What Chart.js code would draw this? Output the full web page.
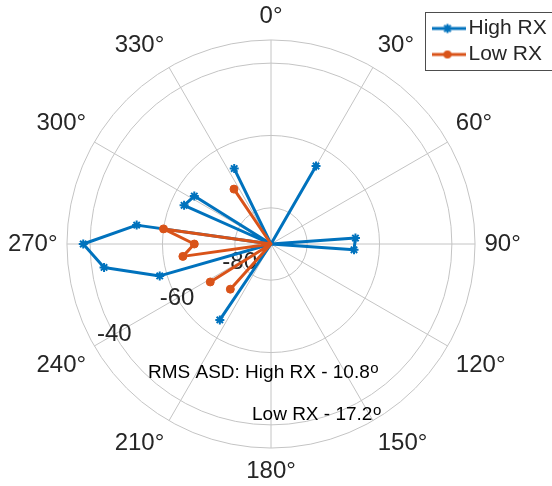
<!DOCTYPE html>
<html>
<head>
<meta charset="utf-8">
<script src="https://cdn.jsdelivr.net/npm/chart.js@4.4.1/dist/chart.umd.min.js"></script>
<style>
  html, body { margin: 0; padding: 0; background: #fff; }
  canvas { display: block; }
</style>
</head>
<body>
<canvas id="polar" width="552" height="486"></canvas>
<script>
// measured directions in degrees (0 = up, clockwise)
const sampleAngles = [
  6, 14, 22, 30, 38, 46, 54, 62, 70,
  78, 86, 94, 102, 110, 118, 126, 134, 142,
  150, 158, 166, 174, 182, 190, 198, 206, 214,
  222, 230, 238, 246, 254, 262, 270, 278, 286,
  294, 302, 310, 318, 326, 334, 342, 350, 358
];
// power in dB, -90 means at or below the inner limit
const highRx = [
  -90, -90, -90, -65.1, -90, -90, -90, -90, -90,
  -90, -66.6, -67.0, -90, -90, -90, -90, -90, -90,
  -90, -90, -90, -90, -90, -90, -90, -90, -64.7,
  -90, -90, -90, -90, -58.0, -43.4, -38.1, -52.5, -90,
  -63.7, -65.0, -90, -90, -90, -66.8, -90, -90, -90
];
const lowRx = [
  -90, -90, -90, -90, -90, -90, -90, -90, -90,
  -90, -90, -90, -90, -90, -90, -90, -90, -90,
  -90, -90, -90, -90, -90, -90, -90, -90, -90,
  -73.2, -90, -70.2, -90, -90, -65.4, -68.8, -60.0, -90,
  -90, -90, -90, -90, -71.7, -90, -90, -90, -90
];
const angleTicks = [0, 30, 60, 90, 120, 150, 180, 210, 240, 270, 300, 330];
const radialTicks = [-80, -60, -40];
const rMin = -90;
const rMax = -33.6;
const tickLabelAngle = 240;

const blue = '#0072BD';
const orange = '#D95319';
const gridColor = '#c4c4c4';
const textColor = '#262626';
const fontFamily = '"Liberation Sans", Arial, Helvetica, sans-serif';

// 2 degree category grid so the radar scale can hold every sample angle
const gridAngles = [];
for (let a = 0; a < 360; a += 2) gridAngles.push(a);

function onGrid(values) {
  return gridAngles.map(a => {
    const i = sampleAngles.indexOf(a);
    return i < 0 ? null : Math.max(values[i], rMin);
  });
}

function swatch(color, marker) {
  const c = document.createElement('canvas');
  c.width = 36; c.height = 14;
  const g = c.getContext('2d');
  g.strokeStyle = color; g.fillStyle = color;
  g.lineWidth = 3;
  g.beginPath(); g.moveTo(0, 7); g.lineTo(36, 7); g.stroke();
  if (marker === 'star') {
    g.lineWidth = 2;
    g.beginPath();
    g.moveTo(18, 2.5); g.lineTo(18, 11.5);
    g.moveTo(13.5, 7); g.lineTo(22.5, 7);
    g.moveTo(14.8, 3.8); g.lineTo(21.2, 10.2);
    g.moveTo(14.8, 10.2); g.lineTo(21.2, 3.8);
    g.stroke();
  } else {
    g.beginPath(); g.arc(18, 7, 4, 0, Math.PI * 2); g.fill();
  }
  return c;
}
const swatches = [swatch(blue, 'star'), swatch(orange, 'circle')];

const extras = {
  id: 'extras',
  afterUpdate(chart) {
    const lg = chart.legend;
    if (!lg) return;
    const h = lg.height;
    lg.left = 432; lg.right = 432 + lg.width;
    lg.top = 13; lg.bottom = 13 + h;
  },
  beforeDatasetsDraw(chart) {
    const r = chart.scales.r;
    const ctx = chart.ctx;
    const a = tickLabelAngle * Math.PI / 180;
    ctx.save();
    ctx.font = '24px ' + fontFamily;
    ctx.fillStyle = textColor;
    ctx.textAlign = 'center';
    ctx.textBaseline = 'middle';
    radialTicks.forEach(v => {
      const d = r.getDistanceFromCenterForValue(v);
      ctx.fillText(String(v), r.xCenter + d * Math.sin(a), r.yCenter - d * Math.cos(a));
    });
    ctx.restore();
  },
  afterDraw(chart) {
    const ctx = chart.ctx;
    ctx.save();
    ctx.strokeStyle = '#4d4d4d';
    ctx.lineWidth = 1;
    ctx.strokeRect(425.5, 12.5, 140, 58);

    ctx.fillStyle = '#000';
    ctx.textBaseline = 'alphabetic';
    ctx.textAlign = 'left';
    const lines = [
      { text: 'RMS ASD: High RX - 10.8', x: 148, y: 378 },
      { text: 'Low RX - 17.2', x: 252, y: 420 }
    ];
    lines.forEach(l => {
      ctx.font = '19px ' + fontFamily;
      ctx.fillText(l.text, l.x, l.y);
      const w = ctx.measureText(l.text).width;
      ctx.font = '15px ' + fontFamily;
      ctx.fillText('o', l.x + w + 0.5, l.y - 5);
    });
    ctx.restore();
  }
};

new Chart(document.getElementById('polar'), {
  type: 'radar',
  data: {
    labels: gridAngles,
    datasets: [
      {
        label: 'High RX',
        data: onGrid(highRx),
        order: 1,
        borderColor: blue,
        borderWidth: 3,
        borderJoinStyle: 'round',
        fill: false,
        spanGaps: true,
        pointStyle: 'star',
        pointRadius: c => (c.raw != null && c.raw > rMin) ? 4.5 : 0,
        pointBorderColor: blue,
        pointBackgroundColor: blue,
        pointBorderWidth: 2
      },
      {
        label: 'Low RX',
        data: onGrid(lowRx),
        order: 0,
        borderColor: orange,
        borderWidth: 3,
        borderJoinStyle: 'round',
        fill: false,
        spanGaps: true,
        pointStyle: 'circle',
        pointRadius: c => (c.raw != null && c.raw > rMin) ? 4 : 0,
        pointBorderColor: orange,
        pointBackgroundColor: orange,
        pointBorderWidth: 1
      }
    ]
  },
  options: {
    responsive: false,
    animation: false,
    layout: { padding: { left: 0, right: 22, top: 2, bottom: 0 } },
    elements: { line: { tension: 0 } },
    plugins: {
      tooltip: { enabled: false },
      legend: {
        position: 'chartArea',
        align: 'start',
        labels: {
          usePointStyle: true,
          padding: 5,
          color: textColor,
          font: { size: 21, family: fontFamily },
          sort: (a, b) => a.datasetIndex - b.datasetIndex,
          generateLabels(chart) {
            const items = Chart.defaults.plugins.legend.labels.generateLabels(chart);
            items.forEach(it => { it.pointStyle = swatches[it.datasetIndex]; });
            return items;
          }
        }
      }
    },
    scales: {
      r: {
        min: rMin,
        max: rMax,
        startAngle: 0,
        afterBuildTicks: s => {
          s.ticks = [rMin].concat(radialTicks, [rMax]).map(v => ({ value: v }));
        },
        ticks: { display: false },
        grid: { circular: true, color: gridColor, lineWidth: 1 },
        angleLines: {
          color: gridColor,
          lineWidth: c => angleTicks.includes(gridAngles[c.index]) ? 1 : 0
        },
        pointLabels: {
          callback: l => angleTicks.includes(+l) ? l + '°' : '',
          color: textColor,
          padding: 9.4,
          font: { size: 24, family: fontFamily, lineHeight: 1.19 }
        }
      }
    }
  },
  plugins: [extras]
});
</script>
</body>
</html>
